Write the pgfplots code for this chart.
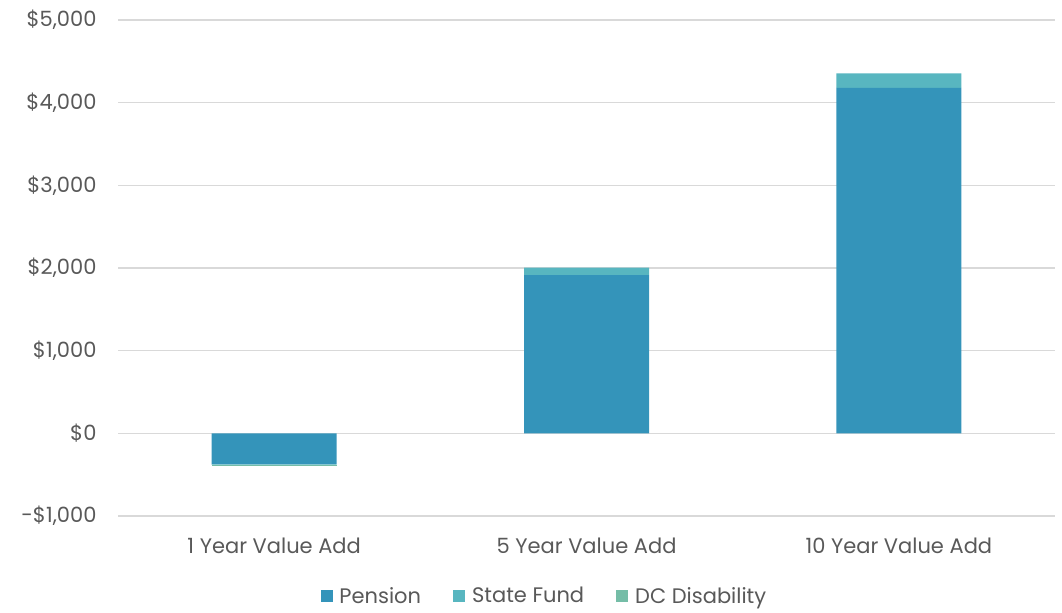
\documentclass[border=0pt]{standalone}
\usepackage{fontspec}
\setmainfont{Poppins}
\usepackage{pgfplots}
\pgfplotsset{compat=1.18}
\definecolor{pension}{HTML}{3494BA}
\definecolor{statefund}{HTML}{58B6C0}
\definecolor{dcdis}{HTML}{75BDA7}
\definecolor{txt}{HTML}{595959}
\definecolor{gridc}{HTML}{D9D9D9}
\begin{document}
\begin{tikzpicture}
\useasboundingbox (0,0) rectangle (1062bp,613bp);
\begin{axis}[
  at={(118bp,97bp)}, anchor=south west,
  scale only axis, width=937bp, height=496bp,
  ybar stacked, bar width=125bp,
  xmin=-0.5, xmax=2.5, ymin=-1000, ymax=5000,
  xtick=data, xticklabels={1 Year Value Add,5 Year Value Add,10 Year Value Add},
  ytick={-1000,0,...,5000},
  axis line style={draw=none}, tick style={draw=none},
  ymajorgrids, grid style={gridc, line width=1.3bp},
  font=\fontsize{21bp}{24bp}\selectfont, text=txt,
  /pgf/number format/assume math mode=true,
  /pgf/number format/1000 sep={,},
  yticklabel={\pgfmathparse{abs(\tick)}\ifdim\tick pt<0pt -\fi\$\pgfmathprintnumber[fixed,precision=0]{\pgfmathresult}},
  y tick label style={xshift=-18bp},
  x tick label style={yshift=-18bp},
  legend style={at={(0.455,-0.137)}, anchor=north, draw=none, legend columns=3,
    inner ysep=1bp,
    /tikz/every odd column/.append style={column sep=5bp},
    /tikz/every even column/.append style={column sep=30bp}, text=txt,
    font=\fontsize{21bp}{24bp}\selectfont},
  legend image code/.code={\fill[#1] (2bp,-6bp) rectangle (14bp,6bp);},
]
\addplot[fill=pension, draw=none] coordinates {(0,-372) (1,1913) (2,4180)};
\addplot[fill=statefund, draw=none] coordinates {(0,-8) (1,93) (2,175)};
\addplot[fill=dcdis, draw=none] coordinates {(0,-6) (1,0) (2,0)};
\legend{Pension,State Fund,DC Disability}
\end{axis}
\end{tikzpicture}
\end{document}
